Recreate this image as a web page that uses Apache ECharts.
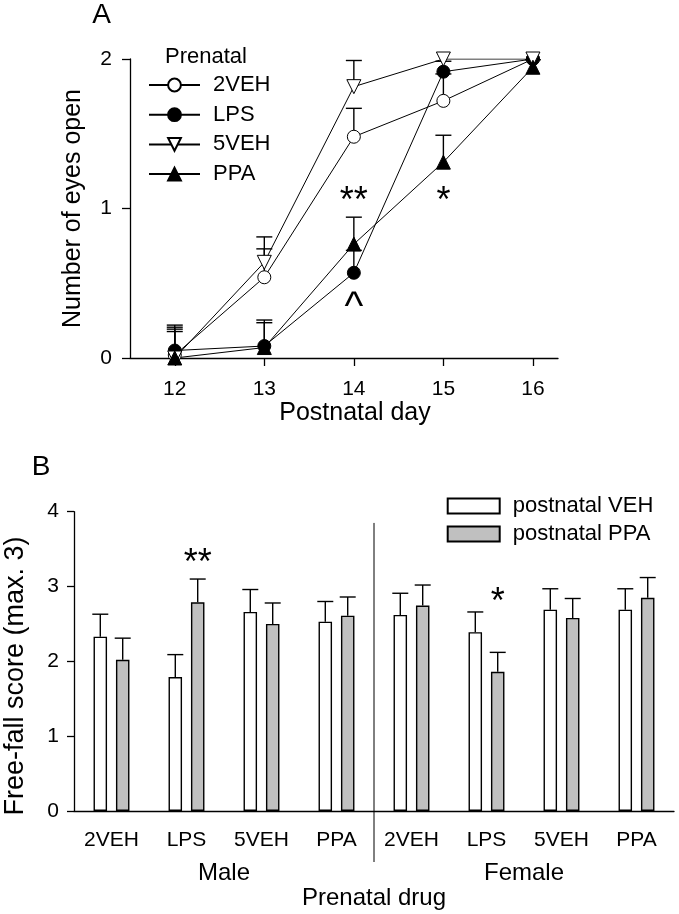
<!DOCTYPE html>
<html><head><meta charset="utf-8">
<script src="https://cdn.jsdelivr.net/npm/echarts@6/dist/echarts.min.js"></script>
<style>html,body{margin:0;padding:0;background:#fff}#c{width:679px;height:914px}</style>
</head><body><div id="c"></div>
<script>
// ---------- Panel A data ----------
const days = [12, 13, 14, 15, 16];
const groupsA = ['2VEH', 'LPS', '5VEH', 'PPA'];
const mean2VEH = [0.02, 0.54, 1.48, 1.72, 2.0];
const err2VEH  = [0.186, 0.19, 0.19, 0.18, 0];
const meanLPS  = [0.05, 0.08, 0.57, 1.915, 2.0];
const errLPS   = [0.17, 0.174, 0.15, 0.07, 0];
const mean5VEH = [0.0, 0.64, 1.815, 2.0, 2.0];
const err5VEH  = [0.193, 0.17, 0.175, 0, 0];
const meanPPA  = [0.0, 0.07, 0.762, 1.31, 1.945];
const errPPA   = [0.177, 0.166, 0.18, 0.18, 0.05];
const annotA = [[14, 1.10, '**'], [15, 1.10, '*'], [14, 0.377, '^']];

// ---------- Panel B data ----------
const drugs = ['2VEH', 'LPS', '5VEH', 'PPA', '2VEH', 'LPS', '5VEH', 'PPA'];
const sexes = ['Male', 'Female'];
const meanVEH = [2.33, 1.79, 2.66, 2.53, 2.62, 2.39, 2.69, 2.69];
const errVEH  = [0.30, 0.30, 0.30, 0.27, 0.29, 0.27, 0.28, 0.28];
const meanPPAb = [2.02, 2.79, 2.50, 2.61, 2.745, 1.86, 2.58, 2.85];
const errPPAb  = [0.29, 0.31, 0.28, 0.25, 0.275, 0.26, 0.26, 0.27];
const annotB = [[1, 3.42, '**'], [5, 2.89, '*']];

// ---------- styling ----------
const FONT = 'Liberation Sans, Arial, sans-serif';
const BLACK = '#000';
const BAR_W = 13.5, BAR_GAP = 0.66;
const barOff = BAR_W * (1 + BAR_GAP) / 2;

function errRender(offsetPx, capHalf) {
  return function (params, api) {
    const x = api.value(0), m = api.value(1), e = api.value(2);
    if (!(e > 0)) return null;
    const p0 = api.coord([x, m]), p1 = api.coord([x, m + e]);
    const cx = p0[0] + offsetPx;
    const st = { stroke: BLACK, lineWidth: 1.4 };
    return { type: 'group', children: [
      { type: 'line', shape: { x1: cx, y1: p0[1], x2: cx, y2: p1[1] }, style: st },
      { type: 'line', shape: { x1: cx - capHalf, y1: p1[1], x2: cx + capHalf, y2: p1[1] }, style: st }
    ]};
  };
}
const annSrc = { annA: annotA, annB: annotB };
function annRender(offsetPx) {
  return function (params, api) {
    const p = api.coord([api.value(0), api.value(1)]);
    const t = annSrc[params.seriesName][params.dataIndex][2];
    const isCaret = t === '^';
    return { type: 'text', x: p[0] + offsetPx, y: p[1] + (isCaret ? 6 : 8.5),
      style: { text: t, fontSize: isCaret ? 40 : 36, fontFamily: FONT, fill: BLACK,
        align: 'center', verticalAlign: 'middle' } };
  };
}

function errData(xs, m, e) { return xs.map((x, i) => [x, m[i], e[i]]); }
function lineData(xs, m) { return xs.map((x, i) => [x, m[i]]); }
const idx = drugs.map((_, i) => i);

const lineCommon = { type: 'line', xAxisIndex: 0, yAxisIndex: 0, z: 4,
  lineStyle: { color: BLACK, width: 1 }, symbolSize: 13 };
const errCommon = { type: 'custom', xAxisIndex: 0, yAxisIndex: 0, z: 2, silent: true,
  encode: { x: 0, y: 1 } };

const chart = echarts.init(document.getElementById('c'), null, { renderer: 'canvas' });
const option = {
  animation: false,
  textStyle: { fontFamily: FONT, color: BLACK },
  grid: [
    { left: 130, top: 59, width: 428, height: 299 },
    { left: 74, top: 511.7, width: 600, height: 299.3 }
  ],
  xAxis: [
    { type: 'value', gridIndex: 0, min: 11.5, max: 16.28,
      name: 'Postnatal day', nameLocation: 'middle', nameGap: 42,
      nameTextStyle: { fontSize: 25, color: BLACK, fontFamily: FONT, padding: [0, 0, 0, 22] },
      axisLine: { lineStyle: { color: BLACK, width: 1.3 } },
      axisTick: { show: true, length: 8, customValues: days, lineStyle: { color: BLACK, width: 1.3 } },
      axisLabel: { customValues: days, fontSize: 21, color: BLACK, margin: 21, fontFamily: FONT },
      splitLine: { show: false } },
    { type: 'category', gridIndex: 1, data: drugs,
      axisLine: { lineStyle: { color: BLACK, width: 1.3 } },
      axisTick: { alignWithLabel: true, length: 8, lineStyle: { color: BLACK, width: 1.3 } },
      axisLabel: { fontSize: 21, color: BLACK, margin: 19, interval: 0, fontFamily: FONT },
      splitLine: { show: false } },
    { type: 'category', gridIndex: 1, data: sexes, position: 'bottom', offset: 50,
      axisLine: { show: false }, axisTick: { show: false },
      axisLabel: { fontSize: 24, color: BLACK, margin: 0, fontFamily: FONT },
      name: 'Prenatal drug', nameLocation: 'middle', nameGap: 25,
      nameTextStyle: { fontSize: 24, color: BLACK, fontFamily: FONT } }
  ],
  yAxis: [
    { type: 'value', gridIndex: 0, min: 0, max: 2, interval: 1,
      name: 'Number of eyes open', nameLocation: 'middle', nameGap: 44,
      nameTextStyle: { fontSize: 25, color: BLACK, fontFamily: FONT },
      axisLine: { show: true, lineStyle: { color: BLACK, width: 1.3 } },
      axisTick: { show: true, length: 8, lineStyle: { color: BLACK, width: 1.3 } },
      axisLabel: { fontSize: 21, color: BLACK, margin: 18, fontFamily: FONT },
      splitLine: { show: false } },
    { type: 'value', gridIndex: 1, min: 0, max: 4, interval: 1,
      axisLine: { show: true, lineStyle: { color: BLACK, width: 1.3 } },
      axisTick: { show: true, length: 7, lineStyle: { color: BLACK, width: 1.3 } },
      axisLabel: { fontSize: 21, color: BLACK, margin: 15, fontFamily: FONT },
      splitLine: { show: false } }
  ],
  legend: [
    { data: groupsA, orient: 'vertical', left: 148, top: 74, padding: 0, itemWidth: 51, itemHeight: 16,
      itemGap: 7.7, selectedMode: false,
      textStyle: { fontSize: 22, color: BLACK, fontFamily: FONT, lineHeight: 22, padding: [0, 0, 0, 8] } },
    { data: ['postnatal VEH', 'postnatal PPA'], orient: 'vertical', left: 446.7, top: 495, padding: 0,
      itemWidth: 52, itemHeight: 15, itemGap: 6, icon: 'rect', selectedMode: false,
      textStyle: { fontSize: 22, color: BLACK, fontFamily: FONT, lineHeight: 22, padding: [0, 0, 0, 8] } }
  ],
  graphic: [
    { type: 'text', x: 101.7, y: 15, style: { text: 'A', fontSize: 28, fontFamily: FONT, fill: BLACK, align: 'center', verticalAlign: 'middle' } },
    { type: 'text', x: 41, y: 467, style: { text: 'B', fontSize: 28, fontFamily: FONT, fill: BLACK, align: 'center', verticalAlign: 'middle' } },
    { type: 'text', x: 165, y: 57, style: { text: 'Prenatal', fontSize: 22, fontFamily: FONT, fill: BLACK, align: 'left', verticalAlign: 'middle' } },
    { type: 'text', x: 16, y: 676, rotation: Math.PI / 2, style: { text: 'Free-fall score (max. 3)', fontSize: 27, fontFamily: FONT, fill: BLACK, align: 'center', verticalAlign: 'middle' } }
  ],
  series: [
    Object.assign({ name: 'e2VEH', data: errData(days, mean2VEH, err2VEH), renderItem: errRender(0, 8) }, errCommon),
    Object.assign({ name: 'eLPS', data: errData(days, meanLPS, errLPS), renderItem: errRender(0, 8) }, errCommon),
    Object.assign({ name: 'e5VEH', data: errData(days, mean5VEH, err5VEH), renderItem: errRender(0, 8) }, errCommon),
    Object.assign({ name: 'ePPA', data: errData(days, meanPPA, errPPA), renderItem: errRender(0, 8) }, errCommon),
    Object.assign({}, lineCommon, { name: '2VEH', data: lineData(days, mean2VEH), symbol: 'circle',
      itemStyle: { color: '#fff', borderColor: BLACK, borderWidth: 1 } }),
    Object.assign({}, lineCommon, { name: 'LPS', data: lineData(days, meanLPS), symbol: 'circle',
      itemStyle: { color: BLACK, borderColor: BLACK, borderWidth: 1 } }),
    Object.assign({}, lineCommon, { name: '5VEH', data: lineData(days, mean5VEH), symbol: 'triangle', symbolRotate: 180, symbolSize: 14,
      itemStyle: { color: '#fff', borderColor: BLACK, borderWidth: 1 } }),
    Object.assign({}, lineCommon, { name: 'PPA', data: lineData(days, meanPPA), symbol: 'triangle', symbolSize: 14,
      itemStyle: { color: BLACK, borderColor: BLACK, borderWidth: 1 } }),
    { name: 'annA', type: 'custom', xAxisIndex: 0, yAxisIndex: 0, z: 5, silent: true, encode: { x: 0, y: 1 },
      data: annotA.map(a => [a[0], a[1]]), renderItem: annRender(0) },
    { name: 'postnatal VEH', type: 'bar', xAxisIndex: 1, yAxisIndex: 1, data: meanVEH,
      barWidth: BAR_W, barGap: (BAR_GAP * 100) + '%',
      itemStyle: { color: '#fff', borderColor: BLACK, borderWidth: 1.4 } },
    { name: 'postnatal PPA', type: 'bar', xAxisIndex: 1, yAxisIndex: 1, data: meanPPAb,
      barWidth: BAR_W, barGap: (BAR_GAP * 100) + '%',
      itemStyle: { color: '#c0c0c0', borderColor: BLACK, borderWidth: 1.4 } },
    { name: 'eVEH', type: 'custom', xAxisIndex: 1, yAxisIndex: 1, z: 3, silent: true, encode: { x: 0, y: 1 },
      data: errData(idx, meanVEH, errVEH), renderItem: errRender(-barOff, 8) },
    { name: 'ePPAb', type: 'custom', xAxisIndex: 1, yAxisIndex: 1, z: 3, silent: true, encode: { x: 0, y: 1 },
      data: errData(idx, meanPPAb, errPPAb), renderItem: errRender(barOff, 8) },
    { name: 'annB', type: 'custom', xAxisIndex: 1, yAxisIndex: 1, z: 5, silent: true, encode: { x: 0, y: 1 },
      data: annotB.map(a => [a[0], a[1]]), renderItem: annRender(barOff) }
  ]
};
chart.setOption(option);

// divider between Male and Female groups
const pA = chart.convertToPixel({ xAxisIndex: 1 }, 3);
const pB = chart.convertToPixel({ xAxisIndex: 1 }, 4);
const yTop = chart.convertToPixel({ yAxisIndex: 1 }, 3.85);
const yBase = chart.convertToPixel({ yAxisIndex: 1 }, 0);
const xd = (pA + pB) / 2;
chart.setOption({ graphic: option.graphic.concat([
  { type: 'line', shape: { x1: xd, y1: yTop, x2: xd, y2: yBase + 51 }, style: { stroke: BLACK, lineWidth: 1 } }
]) });
</script>
</body></html>
